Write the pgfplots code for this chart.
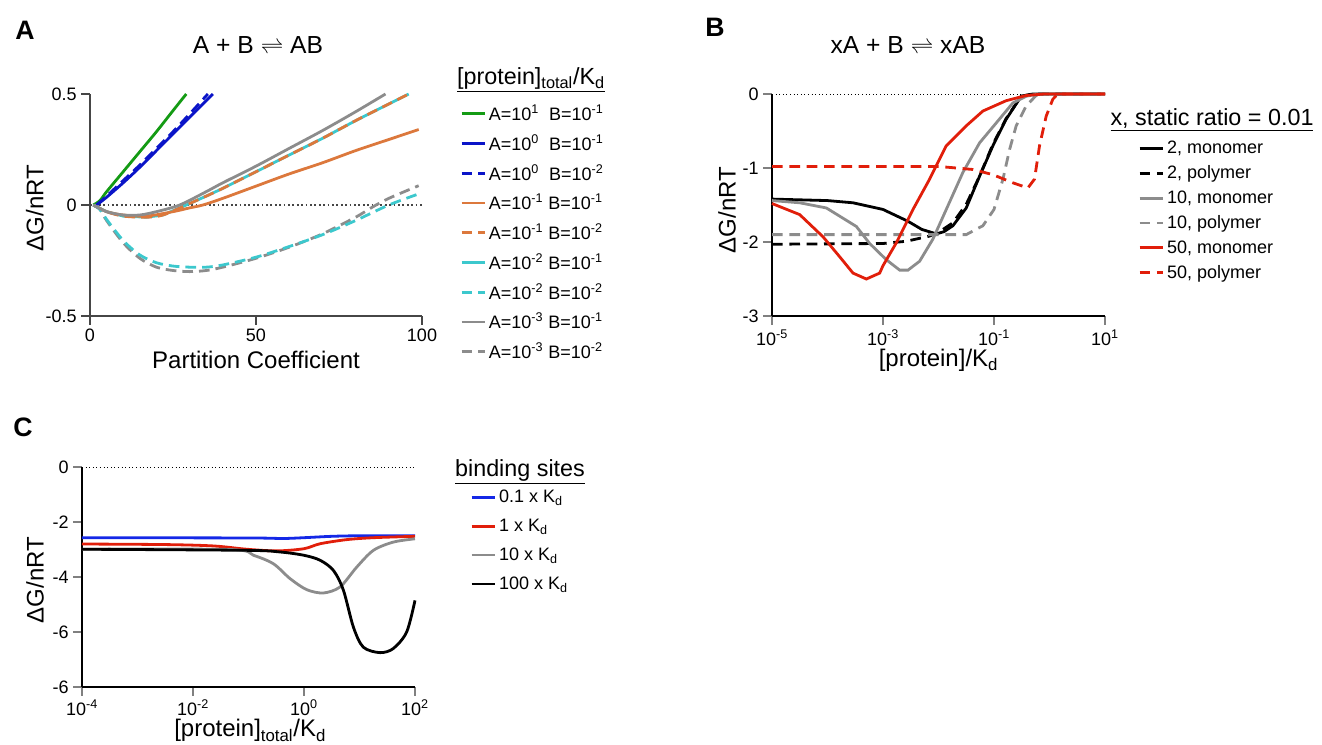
\documentclass[border=0pt]{standalone}
\usepackage{fontspec}
\setmainfont{Liberation Sans}
\usepackage{pgfplots}
\pgfplotsset{compat=1.18}

\definecolor{cGreen}{RGB}{20,155,20}
\definecolor{cBlue}{RGB}{10,20,200}
\definecolor{cOrange}{RGB}{220,120,60}
\definecolor{cCyan}{RGB}{60,200,205}
\definecolor{cGray}{RGB}{140,140,140}
\definecolor{cRed}{RGB}{225,30,10}
\definecolor{cBlueC}{RGB}{20,40,230}
\definecolor{axGray}{RGB}{70,70,70}

\pgfplotsset{
  panel/.style={
    scale only axis, axis lines=left,
    axis line style={-, line width=1.2pt},
    tick align=outside, major tick length=6.5pt,
    tick style={line width=1.2pt},
    enlargelimits=false, clip=false,
    tick label style={font=\fontsize{13.5}{16}\selectfont},
    label style={font=\fontsize{18}{21}\selectfont},
    legend style={draw=none, fill=none, inner sep=0pt, anchor=north west,
      font=\fontsize{13.5}{16}\selectfont, cells={anchor=west},
      /tikz/every even column/.append style={column sep=3pt}},
    legend image code/.code={\draw[##1] (0pt,0pt) -- (17.5pt,0pt);},
  },
  cv/.style={line width=2.1pt},
  dA/.style={dash pattern=on 8pt off 4.5pt},
  dB/.style={dash pattern=on 8pt off 5pt},
}

\begin{document}
\begin{tikzpicture}
\path[use as bounding box] (0pt,0pt) rectangle (991.5pt,-558pt);

% ---------- panel A ----------
\begin{axis}[panel, at={(67.5pt,-237pt)}, anchor=south west,
  width=249pt, height=166.5pt,
  xmin=0, xmax=100, ymin=-0.5, ymax=0.5,
  axis line style={draw=axGray}, tick style={draw=axGray},
  xtick={0,50,100}, xticklabels={0,50,100},
  ytick={-0.5,0,0.5}, yticklabels={-0.5,0,0.5},
  xlabel={Partition Coefficient}, ylabel={ΔG/nRT},
  xlabel style={at={(axis description cs:0.5,-0.198)}, anchor=center},
  ylabel style={at={(axis description cs:-0.166,0.486)}, anchor=center},
  legend style={at={(axis description cs:1.114,0.964)}, row sep=5pt},
]
\addplot[forget plot, axGray, line width=1.3pt, dotted] coordinates {(0,0) (100,0)};
\addplot[forget plot, cv, cCyan] coordinates {(1,0) (5,-0.03) (10,-0.05) (17,-0.055) (22,-0.045) (29,0) (35,0.04) (40,0.075) (50,0.15) (60,0.225) (70,0.3) (80,0.38) (90,0.455) (96,0.5)};
\addplot[cv, cGreen, smooth] coordinates {(1,0) (3,0.02) (5,0.06) (10,0.15) (15,0.24) (20,0.33) (25,0.425) (29,0.5)};
\addlegendentry{A=10\textsuperscript{1}~~B=10\textsuperscript{-1}}
\addplot[cv, cBlue, smooth] coordinates {(2,0) (5,0.035) (10,0.1) (15,0.17) (20,0.245) (25,0.32) (30,0.395) (37,0.5)};
\addlegendentry{A=10\textsuperscript{0}~~B=10\textsuperscript{-1}}
\addplot[cv, cBlue, dA, smooth] coordinates {(2,0) (5,0.04) (10,0.11) (15,0.18) (20,0.255) (25,0.33) (30,0.41) (35.5,0.5)};
\addlegendentry{A=10\textsuperscript{0}~~B=10\textsuperscript{-2}}
\addplot[cv, cOrange, smooth] coordinates {(1,0) (5,-0.03) (10,-0.045) (17,-0.05) (25,-0.03) (30,-0.013) (34,0) (40,0.03) (50,0.085) (60,0.14) (70,0.19) (80,0.245) (90,0.295) (99,0.34)};
\addlegendentry{A=10\textsuperscript{-1} B=10\textsuperscript{-1}}
\addplot[cv, cOrange, dA, smooth] coordinates {(1,0) (5,-0.03) (10,-0.05) (17,-0.055) (22,-0.045) (29,0) (35,0.04) (40,0.075) (50,0.15) (60,0.225) (70,0.3) (80,0.38) (90,0.455) (96,0.5)};
\addlegendentry{A=10\textsuperscript{-1} B=10\textsuperscript{-2}}
\addlegendimage{cv, cCyan}
\addlegendentry{A=10\textsuperscript{-2} B=10\textsuperscript{-1}}
\addplot[forget plot, cv, cGray, dA, smooth] coordinates {(1,0) (3,-0.02) (5,-0.07) (10,-0.17) (15,-0.24) (20,-0.28) (25,-0.295) (30,-0.30) (35,-0.295) (40,-0.28) (50,-0.24) (60,-0.19) (70,-0.13) (80,-0.055) (85,-0.01) (90,0.03) (99,0.087)};
\addplot[cv, cCyan, dA, smooth] coordinates {(1,0) (3,-0.02) (5,-0.065) (10,-0.16) (15,-0.225) (20,-0.26) (25,-0.275) (30,-0.28) (35,-0.28) (40,-0.27) (50,-0.235) (60,-0.187) (70,-0.134) (80,-0.07) (90,0) (99,0.05)};
\addlegendentry{A=10\textsuperscript{-2} B=10\textsuperscript{-2}}
\addplot[cv, cGray, smooth] coordinates {(1,0) (5,-0.03) (10,-0.045) (15,-0.045) (20,-0.03) (27,0) (35,0.06) (40,0.1) (50,0.175) (60,0.255) (70,0.335) (80,0.42) (89,0.5)};
\addlegendentry{A=10\textsuperscript{-3} B=10\textsuperscript{-1}}
\addlegendimage{cv, cGray, dA}
\addlegendentry{A=10\textsuperscript{-3} B=10\textsuperscript{-2}}
\end{axis}

% ---------- panel B ----------
\begin{axis}[panel, at={(579pt,-237pt)}, anchor=south west,
  width=249.75pt, height=166.5pt,
  xmode=log, xmin=1e-5, xmax=10, ymin=-3, ymax=0,
  xtick={1e-5,1e-3,1e-1,10},
  xticklabels={10\textsuperscript{-5},10\textsuperscript{-3},10\textsuperscript{-1},10\textsuperscript{1}},
  minor xtick={},
  ytick={-3,-2,-1,0}, yticklabels={-3,-2,-1,0},
  xlabel={[protein]/K\textsubscript{d}}, ylabel={ΔG/nRT},
  xlabel style={at={(axis description cs:0.5,-0.198)}, anchor=center},
  ylabel style={at={(axis description cs:-0.135,0.477)}, anchor=center},
  legend style={at={(axis description cs:1.099,0.80)}, row sep=3.5pt},
]
\addplot[forget plot, black, line width=0.7pt, dotted] coordinates {(1e-5,0) (10,0)};
\addplot[cv, black] coordinates {(1e-5,-1.42) (3.16e-5,-1.43) (1e-4,-1.44) (2.88e-4,-1.47) (1e-3,-1.56) (2.82e-3,-1.72) (5.01e-3,-1.83) (9.12e-3,-1.89) (1.26e-2,-1.86) (1.82e-2,-1.78) (3.16e-2,-1.54) (5.5e-2,-1.11) (9.55e-2,-0.70) (0.166,-0.34) (0.309,-0.03) (0.501,0) (10,0)};
\addlegendentry{2, monomer}
\addplot[cv, black, dB] coordinates {(1e-5,-2.03) (1e-3,-2.02) (2.63e-3,-1.99) (6.92e-3,-1.92) (1.05e-2,-1.86) (1.82e-2,-1.74) (3.16e-2,-1.49) (5.5e-2,-1.11) (9.55e-2,-0.68) (0.166,-0.33) (0.309,-0.03) (0.501,0) (10,0)};
\addlegendentry{2, polymer}
\addplot[cv, cGray] coordinates {(1e-5,-1.44) (3.16e-5,-1.47) (9.55e-5,-1.54) (3.31e-4,-1.79) (5.75e-4,-2.02) (1.15e-3,-2.24) (2.0e-3,-2.38) (2.82e-3,-2.38) (4.57e-3,-2.26) (7.94e-3,-1.96) (1.38e-2,-1.56) (2.75e-2,-1.06) (5.5e-2,-0.66) (0.110,-0.39) (0.219,-0.12) (0.380,-0.03) (0.631,0) (10,0)};
\addlegendentry{10, monomer}
\addplot[cv, cGray, dB] coordinates {(1e-5,-1.90) (3.16e-2,-1.90) (6.31e-2,-1.78) (0.1,-1.56) (0.145,-1.15) (0.191,-0.75) (0.251,-0.43) (0.380,-0.16) (0.575,-0.02) (0.891,0) (10,0)};
\addlegendentry{10, polymer}
\addplot[cv, cRed] coordinates {(1e-5,-1.48) (3.16e-5,-1.63) (8.32e-5,-1.93) (1.66e-4,-2.2) (2.88e-4,-2.42) (5.01e-4,-2.50) (8.71e-4,-2.42) (1e-3,-2.32) (1.74e-3,-2.01) (3.47e-3,-1.56) (6.92e-3,-1.15) (1.38e-2,-0.70) (3.16e-2,-0.43) (6.31e-2,-0.23) (0.166,-0.09) (0.380,-0.02) (0.794,0) (10,0)};
\addlegendentry{50, monomer}
\addplot[cv, cRed, dB] coordinates {(1e-5,-0.98) (1.05e-2,-0.98) (4.17e-2,-1.02) (9.55e-2,-1.09) (0.219,-1.2) (0.407,-1.27) (0.537,-1.15) (0.661,-0.7) (0.871,-0.30) (1.148,-0.07) (1.413,0) (10,0)};
\addlegendentry{50, polymer}
\end{axis}

% ---------- panel C ----------
\begin{axis}[panel, at={(61.5pt,-515.25pt)}, anchor=south west,
  width=249.75pt, height=165pt,
  xmode=log, xmin=1e-4, xmax=100, ymin=-8, ymax=0,
  xtick={1e-4,1e-2,1,100},
  xticklabels={10\textsuperscript{-4},10\textsuperscript{-2},10\textsuperscript{0},10\textsuperscript{2}},
  xticklabel style={inner sep=1pt, yshift=-2pt},
  minor xtick={},
  ytick={-8,-6,-4,-2,0}, yticklabels={-6,-6,-4,-2,0},
  xlabel={[protein]\textsubscript{total}/K\textsubscript{d}}, ylabel={ΔG/nRT},
  xlabel style={at={(axis description cs:0.505,-0.198)}, anchor=center, inner sep=0.5pt},
  ylabel style={at={(axis description cs:-0.141,0.486)}, anchor=center},
  legend style={at={(axis description cs:1.165,0.909)}, row sep=6.8pt},
]
\addplot[forget plot, black, line width=0.7pt, dotted] coordinates {(1e-4,0) (100,0)};
\addplot[cv, cBlueC, smooth] coordinates {(1e-4,-2.57) (0.1,-2.58) (0.398,-2.6) (1,-2.57) (3.16,-2.52) (10,-2.5) (100,-2.5)};
\addlegendentry{0.1 x K\textsubscript{d}}
\addplot[cv, cRed, smooth] coordinates {(1e-4,-2.8) (3.16e-3,-2.82) (0.0234,-2.87) (0.0933,-2.99) (0.324,-3.05) (1,-2.97) (1.95,-2.79) (5.89,-2.64) (17.8,-2.57) (100,-2.52)};
\addlegendentry{1 x K\textsubscript{d}}
\addplot[cv, cGray, smooth] coordinates {(1e-4,-2.99) (0.0468,-3.0) (0.123,-3.21) (0.282,-3.52) (0.562,-4.06) (1.12,-4.46) (2.24,-4.58) (4.47,-4.36) (8.91,-3.64) (17.8,-3.03) (40.7,-2.73) (100,-2.61)};
\addlegendentry{10 x K\textsubscript{d}}
\addplot[cv, black, smooth] coordinates {(1e-4,-2.99) (0.0933,-3.03) (0.372,-3.09) (1,-3.21) (1.95,-3.39) (3.39,-3.76) (5.13,-4.48) (7.76,-5.82) (11.7,-6.55) (23.4,-6.75) (40.7,-6.6) (70.8,-6.0) (100,-4.85)};
\addlegendentry{100 x K\textsubscript{d}}
\end{axis}

% ---------- titles and panel letters ----------
\node[font=\bfseries\fontsize{20}{24}\selectfont] at (18.75pt,-22.5pt) {A};
\node[font=\bfseries\fontsize{20}{24}\selectfont] at (536.25pt,-20.25pt) {B};
\node[font=\bfseries\fontsize{20}{24}\selectfont] at (17.25pt,-320.25pt) {C};
\node[font=\fontsize{18.5}{22}\selectfont] at (193.5pt,-33.75pt) {A + B $\rightleftharpoons$ AB};
\node[font=\fontsize{18.5}{22}\selectfont] at (681pt,-33.75pt) {xA + B $\rightleftharpoons$ xAB};
\node[font=\fontsize{17.5}{21}\selectfont] at (398.25pt,-60pt) {\underline{[protein]\textsubscript{total}/K\textsubscript{d}}};
\node[font=\fontsize{17.5}{21}\selectfont] at (909pt,-90pt) {\underline{x, static ratio = 0.01}};
\node[font=\fontsize{17.5}{21}\selectfont] at (390pt,-353.8pt) {\underline{binding sites}};
\end{tikzpicture}
\end{document}
